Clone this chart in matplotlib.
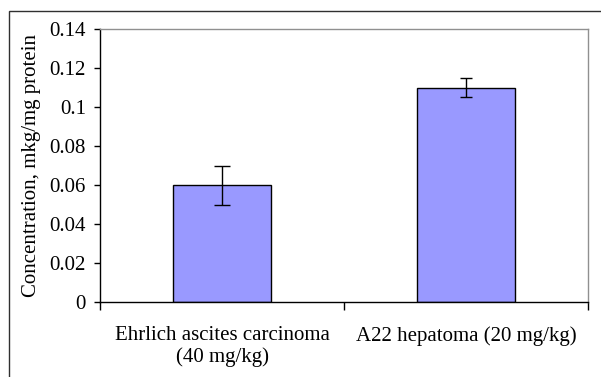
import matplotlib
matplotlib.use("Agg")
import matplotlib.pyplot as plt
from matplotlib.patches import Rectangle

categories = ["Ehrlich ascites carcinoma\n(40 mg/kg)", "A22 hepatoma (20 mg/kg)"]
values = [0.06, 0.11]
errors = [0.01, 0.005]
yticks = [0, 0.02, 0.04, 0.06, 0.08, 0.1, 0.12, 0.14]
yticklabels = ["0", "0.02", "0.04", "0.06", "0.08", "0.1", "0.12", "0.14"]

plt.rcParams['font.family'] = ['Liberation Serif', 'DejaVu Serif']
plt.rcParams['font.size'] = 15

fig = plt.figure(figsize=(6.01, 3.77), dpi=100)
fig.patch.set_facecolor('white')
fig.patches.append(Rectangle((9/601, -0.2), 1.2, 1 - 11/377 + 0.2, transform=fig.transFigure,
                             fill=False, edgecolor='#303030', linewidth=1.0, clip_on=False))

ax = fig.add_axes([100/601, 1 - 302/377, 488/601, 273/377])
x = list(range(len(categories)))
ax.bar(x, values, width=0.4, color='#9999FF', edgecolor='black', linewidth=1.0, zorder=2)
capsizes = [6, 4.3]
for xi, v, e, c in zip(x, values, errors, capsizes):
    ax.errorbar([xi], [v], yerr=[e], fmt='none', ecolor='black', elinewidth=1.0,
                capsize=c, capthick=1.0, zorder=3)

ax.set_xlim(-0.5, 1.5)
ax.set_ylim(0, 0.14)
ax.set_yticks(yticks)
ax.set_yticklabels(yticklabels)
ax.set_xticks([-0.5, 0.5, 1.5])
ax.set_xticklabels([])
ax.set_xticks(x, minor=True)
ax.set_xticklabels(categories, minor=True, linespacing=1.1)
ax.tick_params(axis='x', which='minor', length=0, pad=17.5)
ax.tick_params(axis='x', which='major', length=6, width=1, direction='out', color='black')
ax.tick_params(axis='y', length=4, width=1, direction='out', pad=6, color='black')

for s in ['top', 'right']:
    ax.spines[s].set_color('#909090')
    ax.spines[s].set_linewidth(1.0)
for s in ['left', 'bottom']:
    ax.spines[s].set_color('black')
    ax.spines[s].set_linewidth(1.0)

ax.set_ylabel("Concentration, mkg/mg protein", labelpad=6)

fig.savefig("out.png", dpi=100)
